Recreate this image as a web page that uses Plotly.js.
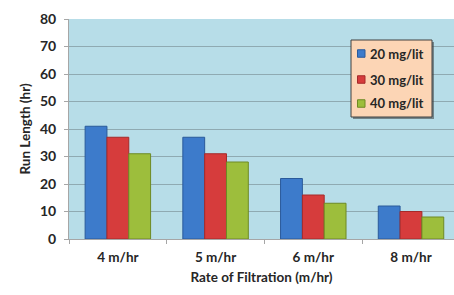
<!DOCTYPE html>
<html><head><meta charset="utf-8">
<script src="https://cdn.plot.ly/plotly-3.0.1.min.js"></script>
<style>html,body{margin:0;padding:0;background:#fff}#c{width:454px;height:295px}</style>
</head><body><div id="c"></div>
<script>
const categories = ['4 m/hr', '5 m/hr', '6 m/hr', '8 m/hr'];
const series20 = [41, 37, 22, 12];
const series30 = [37, 31, 16, 10];
const series40 = [31, 28, 13, 8];
const seriesNames = ['20 mg/lit', '30 mg/lit', '40 mg/lit'];
const colors = ['#3D7BCB', '#D63C3C', '#9DBE3C'];
const lines = ['#2A5A9A', '#A52A2A', '#6E8A24'];

const font = 'Lato, "Open Sans", sans-serif';
const bars = [series20, series30, series40].map((v, i) => ({
  type: 'bar', x: categories, y: v, name: seriesNames[i],
  marker: {color: colors[i], line: {color: lines[i], width: 1}}
}));

// legend box drawn in layout (pixel -> paper helpers)
const L = 69, T = 19, W = 385, H = 220;
const px = v => (v - L) / W;
const py = v => (T + H - v) / H;
const legendShapes = [
  {type: 'rect', xref: 'paper', yref: 'paper', x0: px(353), x1: px(434), y0: py(119), y1: py(42),
   fillcolor: 'rgba(60,60,60,0.55)', line: {width: 0}, layer: 'above'},
  {type: 'rect', xref: 'paper', yref: 'paper', x0: px(351), x1: px(432), y0: py(117), y1: py(40),
   fillcolor: '#FCD5B5', line: {color: '#404040', width: 1}, layer: 'above'}
];
const rowY = [53.5, 79.5, 103.5];
seriesNames.forEach((n, i) => {
  legendShapes.push({type: 'rect', xref: 'paper', yref: 'paper',
    x0: px(357.5), x1: px(365), y0: py(rowY[i] + 3.75), y1: py(rowY[i] - 3.75),
    fillcolor: colors[i], line: {color: lines[i], width: 1}, layer: 'above'});
});
const legendText = seriesNames.map((n, i) => ({
  xref: 'paper', yref: 'paper', x: px(368), y: py(rowY[i]), xanchor: 'left', yanchor: 'middle',
  text: n, showarrow: false,
  font: {size: 13, family: font, weight: 'bold', color: '#262626'}
}));

const layout = {
  width: 454, height: 295,
  margin: {l: L, r: 0, t: T, b: 295 - T - H},
  paper_bgcolor: '#ffffff', plot_bgcolor: '#B7DDE8',
  barmode: 'group', bargap: 0.33, bargroupgap: 0,
  font: {family: font, color: '#262626'},
  showlegend: false,
  xaxis: {
    range: [-0.5, 3.44], tickson: 'boundaries', ticks: 'outside', ticklen: 4,
    tickcolor: '#A6A6A6', showline: true, linecolor: '#A6A6A6', linewidth: 1,
    tickfont: {size: 13.5, family: font, weight: 'bold', color: '#262626'},
    ticklabelstandoff: 6,
    title: {text: 'Rate of Filtration (m/hr)', font: {size: 13.5, family: font, weight: 'bold', color: '#262626'}, standoff: 8},
    showgrid: false, fixedrange: true
  },
  yaxis: {
    range: [0, 80], dtick: 10, ticks: 'outside', ticklen: 4, tickcolor: '#A6A6A6',
    showline: true, linecolor: '#A6A6A6', linewidth: 1,
    gridcolor: '#8FAAB2', gridwidth: 1, zeroline: false,
    tickfont: {size: 14, family: font, weight: 'bold', color: '#262626'},
    title: {text: 'Run Length (hr)', font: {size: 13.5, family: font, weight: 'bold', color: '#262626'}, standoff: 6},
    ticklabelstandoff: 5
  },
  shapes: legendShapes,
  annotations: legendText
};
Plotly.newPlot('c', bars, layout, {displayModeBar: false, staticPlot: true});
</script></body></html>
